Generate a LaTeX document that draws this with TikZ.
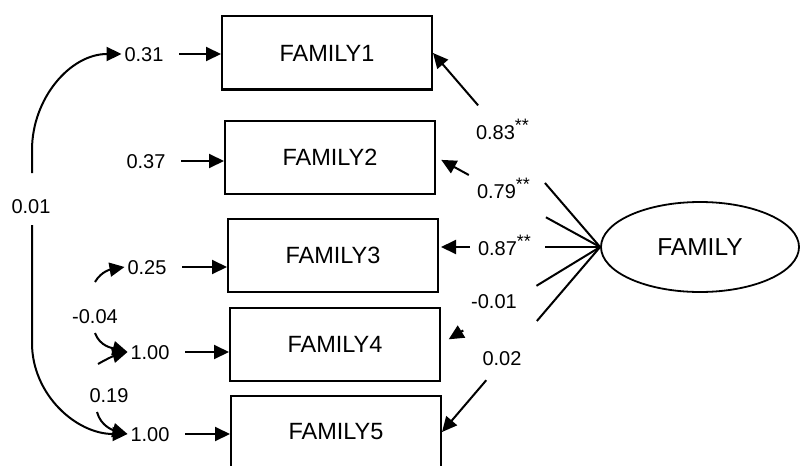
\documentclass[tikz,border=0pt]{standalone}
\usepackage{fontspec}
\setmainfont{Liberation Sans}
\usetikzlibrary{arrows.meta,shapes.geometric,calc}
\begin{document}
\begin{tikzpicture}[x=0.5pt,y=-0.5pt,line width=1pt,>={Triangle[length=7.5pt,width=7pt]}]
	\tikzset{box/.style={draw,minimum width=105pt,minimum height=36.5pt,inner sep=0pt,font=\fontsize{11.75}{14}\selectfont}}
	\tikzset{num/.style={inner sep=1pt,text height=7.2pt,text depth=0pt,font=\fontsize{10}{12}\selectfont}}
	\useasboundingbox (0,0) rectangle (801,465);
	\node[draw,ellipse,line width=0.9pt,minimum width=99pt,minimum height=45pt,inner sep=0pt,font=\fontsize{12.25}{14}\selectfont] (fam) at (700,247) {FAMILY};
	\foreach \i/\x/\y/\ex/\ey/\ev in {1/327/53/144/54/0.31,2/330/157/146/161/0.37,3/333/255/147/267/0.25,4/335/344/150/352/1.00,5/336/432/150/434/1.00}{
		\node[box] (f\i) at (\x,\y) {FAMILY\i};
		\node[num] (e\i) at (\ex,\ey) {\ev};
		\draw[->,shorten <=6.5pt] (e\i.east) -- (e\i.east -| f\i.west);
	}
	% loadings
	\foreach \i/\a/\b/\s in {1/0.33/0.73/0,2/0.33/0.80/3,4/0.40/0.86/4.5,5/0.40/0.72/0}{
		\draw (fam.west) -- ($(fam.west)!\a!(f\i.east)$);
		\draw[->,shorten >=\s pt] ($(fam.west)!\b!(f\i.east)$) -- (f\i.east);
	}
	\draw (fam.west) -- ($(fam.west)!0.34!(fam.west -| f3.east)$);
	\draw[->,shorten >=1pt] ($(fam.west)!0.81!(fam.west -| f3.east)$) -- (fam.west -| f3.east);
	\node[num] (l83) at (503,132) {0.83\textsuperscript{\small **}};
	\node[num] (l79) at (504,191) {0.79\textsuperscript{\small **}};
	\node[num] (l87) at (505,248) {0.87\textsuperscript{\small **}};
	\node[num] (l01m) at (494,301) {-0.01};
	\node[num] (l02) at (502,358) {0.02};
	% covariances
	\coordinate (c1) at (32,173);
	\coordinate (c2) at (32,225);
	\coordinate (c3) at (95,282);
	\coordinate (c4) at (95,333);
	\coordinate (c5) at (98,364);
	\coordinate (c6) at (97,412);
	\draw[->] (c1) -- ++(0,-23) to[out=90,in=180] (e1.west);
	\draw[->] (c2) -- ++(0,118) to[out=-90,in=180] (e5.west);
	\draw[->] (c3) to[out=60,in=190] (e3.west);
	\draw[->] (c4) to[out=-70,in=165] (e4.west);
	\draw[->] (c5) to[out=30,in=195] (e4.west);
	\draw[->] (c6) to[out=-75,in=165] (e5.west);
	\node[num] (l01) at (31,206) {0.01};
	\node[num] (l04) at (95,316) {-0.04};
	\node[num] (l19) at (109,395) {0.19};
\end{tikzpicture}
\end{document}
